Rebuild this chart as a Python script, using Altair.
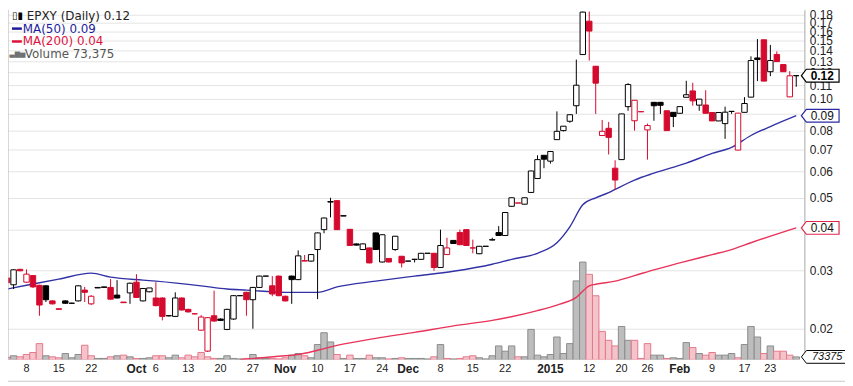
import altair as alt
import pandas as pd

# ---------------- data ----------------
first_prev_close = 0.0290
opens = [
    0.0285, 0.0272, 0.0303, 0.0277, 0.0290, 0.0271, 0.0270, 0.0243, 0.0230, 0.0243,
    0.0239, 0.0243, 0.0262, 0.0238, 0.0266, 0.0267, 0.0267, 0.0253, 0.0241, 0.0257,
    0.0277, 0.0243, 0.0259, 0.0248, 0.0248, 0.0219, 0.0218, 0.0248, 0.0229, 0.0222,
    0.0198, 0.0171, 0.0219, 0.0214, 0.0199, 0.0214, 0.0252, 0.0258, 0.0245, 0.0267,
    0.0289, 0.0270, 0.0289, 0.0251, 0.0289, 0.0282, 0.0322, 0.0321, 0.0348, 0.0400,
    0.0485, 0.0490, 0.0441, 0.0401, 0.0362, 0.0348, 0.0352, 0.0391, 0.0319, 0.0327,
    0.0348, 0.0332, 0.0321, 0.0325, 0.0325, 0.0339, 0.0339, 0.0307, 0.0336, 0.0371,
    0.0392, 0.0400, 0.0352, 0.0338, 0.0356, 0.0372, 0.0392, 0.0384, 0.0471, 0.0482,
    0.0478, 0.0519, 0.0572, 0.0673, 0.0646, 0.0751, 0.0800, 0.0854, 0.0952, 0.1362,
    0.1720, 0.1255, 0.0773, 0.0813, 0.0615, 0.0653, 0.0946, 0.0857, 0.0913, 0.0804,
    0.0975, 0.0975, 0.0919, 0.0909, 0.0903, 0.1010, 0.1056, 0.0956, 0.0957, 0.0908,
    0.0856, 0.0840, 0.0915, 0.0698, 0.0909, 0.1011, 0.1330, 0.1510, 0.1208, 0.1363,
    0.1270, 0.1013, 0.1175,
]
highs = [
    0.0290, 0.0303, 0.0304, 0.0303, 0.0291, 0.0272, 0.0271, 0.0244, 0.0230, 0.0244,
    0.0240, 0.0271, 0.0268, 0.0253, 0.0267, 0.0268, 0.0283, 0.0281, 0.0241, 0.0276,
    0.0293, 0.0266, 0.0266, 0.0277, 0.0249, 0.0219, 0.0258, 0.0249, 0.0230, 0.0222,
    0.0220, 0.0217, 0.0261, 0.0215, 0.0230, 0.0253, 0.0252, 0.0259, 0.0268, 0.0290,
    0.0289, 0.0289, 0.0290, 0.0252, 0.0290, 0.0346, 0.0335, 0.0337, 0.0392, 0.0435,
    0.0500, 0.0491, 0.0441, 0.0402, 0.0363, 0.0363, 0.0353, 0.0392, 0.0387, 0.0328,
    0.0383, 0.0333, 0.0321, 0.0325, 0.0340, 0.0339, 0.0340, 0.0400, 0.0378, 0.0372,
    0.0400, 0.0401, 0.0373, 0.0357, 0.0356, 0.0378, 0.0410, 0.0452, 0.0501, 0.0482,
    0.0501, 0.0604, 0.0673, 0.0674, 0.0692, 0.0915, 0.0826, 0.0895, 0.1315, 0.1840,
    0.1840, 0.1256, 0.0862, 0.0850, 0.0650, 0.0900, 0.1115, 0.0990, 0.0913, 0.0840,
    0.0976, 0.0976, 0.0920, 0.0910, 0.0947, 0.1134, 0.1118, 0.0998, 0.1061, 0.0909,
    0.0909, 0.0946, 0.0916, 0.0905, 0.1011, 0.1345, 0.1518, 0.1511, 0.1457, 0.1393,
    0.1271, 0.1213, 0.1176,
]
lows = [
    0.0272, 0.0264, 0.0299, 0.0276, 0.0266, 0.0219, 0.0241, 0.0237, 0.0229, 0.0238,
    0.0238, 0.0242, 0.0241, 0.0236, 0.0266, 0.0267, 0.0245, 0.0247, 0.0240, 0.0238,
    0.0248, 0.0242, 0.0258, 0.0234, 0.0212, 0.0218, 0.0217, 0.0227, 0.0224, 0.0221,
    0.0197, 0.0170, 0.0210, 0.0211, 0.0198, 0.0213, 0.0252, 0.0219, 0.0200, 0.0266,
    0.0289, 0.0251, 0.0251, 0.0242, 0.0238, 0.0281, 0.0321, 0.0320, 0.0246, 0.0390,
    0.0436, 0.0399, 0.0440, 0.0357, 0.0358, 0.0347, 0.0316, 0.0347, 0.0318, 0.0318,
    0.0345, 0.0307, 0.0321, 0.0318, 0.0324, 0.0339, 0.0300, 0.0306, 0.0335, 0.0362,
    0.0359, 0.0357, 0.0339, 0.0337, 0.0356, 0.0371, 0.0383, 0.0383, 0.0470, 0.0482,
    0.0477, 0.0518, 0.0571, 0.0615, 0.0635, 0.0750, 0.0795, 0.0845, 0.0899, 0.1360,
    0.1306, 0.0899, 0.0772, 0.0677, 0.0528, 0.0652, 0.0919, 0.0800, 0.0913, 0.0653,
    0.0857, 0.0899, 0.0799, 0.0820, 0.0902, 0.1009, 0.0952, 0.0919, 0.0902, 0.0855,
    0.0855, 0.0755, 0.0900, 0.0697, 0.0908, 0.1010, 0.1131, 0.1130, 0.1171, 0.1295,
    0.1207, 0.1012, 0.1087,
]
closes = [
    0.0276, 0.0302, 0.0300, 0.0293, 0.0268, 0.0236, 0.0245, 0.0238, 0.0229, 0.0239,
    0.0239, 0.0270, 0.0258, 0.0251, 0.0267, 0.0268, 0.0246, 0.0248, 0.0240, 0.0275,
    0.0249, 0.0265, 0.0266, 0.0235, 0.0218, 0.0219, 0.0248, 0.0228, 0.0225, 0.0222,
    0.0217, 0.0216, 0.0211, 0.0212, 0.0229, 0.0252, 0.0252, 0.0245, 0.0267, 0.0289,
    0.0289, 0.0255, 0.0252, 0.0243, 0.0282, 0.0333, 0.0321, 0.0336, 0.0391, 0.0434,
    0.0487, 0.0400, 0.0440, 0.0358, 0.0359, 0.0362, 0.0317, 0.0348, 0.0386, 0.0319,
    0.0382, 0.0317, 0.0321, 0.0325, 0.0339, 0.0339, 0.0307, 0.0358, 0.0352, 0.0363,
    0.0360, 0.0358, 0.0352, 0.0356, 0.0356, 0.0373, 0.0384, 0.0451, 0.0500, 0.0482,
    0.0500, 0.0603, 0.0653, 0.0655, 0.0691, 0.0796, 0.0825, 0.0894, 0.1099, 0.1833,
    0.1605, 0.1115, 0.0796, 0.0763, 0.0566, 0.0899, 0.1104, 0.0989, 0.0913, 0.0829,
    0.0952, 0.0955, 0.0800, 0.0883, 0.0946, 0.1028, 0.0985, 0.0997, 0.0903, 0.0856,
    0.0908, 0.0910, 0.0915, 0.0904, 0.0967, 0.1306, 0.1315, 0.1131, 0.1306, 0.1296,
    0.1208, 0.1174, 0.1175,
]
volumes = [
    60000, 106000, 76000, 143000, 200000, 457000, 106000, 76000, 48000, 171000,
    48000, 143000, 410000, 106000, 29000, 29000, 76000, 106000, 124000, 76000,
    29000, 29000, 48000, 106000, 106000, 48000, 124000, 48000, 124000, 76000,
    200000, 76000, 29000, 29000, 106000, 29000, 15000, 29000, 143000, 48000,
    29000, 29000, 15000, 48000, 124000, 171000, 106000, 48000, 430000, 771000,
    505000, 143000, 29000, 124000, 29000, 29000, 124000, 48000, 48000, 15000,
    29000, 48000, 29000, 29000, 29000, 15000, 76000, 430000, 29000, 15000,
    29000, 76000, 106000, 48000, 15000, 106000, 390000, 238000, 390000, 76000,
    76000, 866000, 124000, 76000, 143000, 648000, 171000, 457000, 2267000, 2810000,
    2457000, 1838000, 810000, 552000, 390000, 952000, 552000, 552000, 29000, 457000,
    124000, 124000, 29000, 48000, 29000, 486000, 343000, 171000, 124000, 200000,
    124000, 124000, 171000, 48000, 430000, 952000, 648000, 171000, 390000, 238000,
    238000, 124000, 73375,
]

ma50_idx = [0, 3, 8, 13, 16, 21, 23, 30, 34, 37, 43, 48, 51, 57, 63, 69, 75, 78, 82,
            85, 87, 89, 91, 93, 94, 97, 100, 105, 109, 112, 115, 118, 122]
ma50_val = [0.0264, 0.0271, 0.0283, 0.0295, 0.0287, 0.0281, 0.0279, 0.0270, 0.0264,
            0.0262, 0.0258, 0.0258, 0.0268, 0.0279, 0.0289, 0.0299, 0.0314, 0.0325,
            0.0339, 0.0365, 0.0408, 0.0476, 0.0500, 0.0518, 0.0530, 0.0566, 0.0594,
            0.0637, 0.0682, 0.0711, 0.0773, 0.0823, 0.0888]
ma200_idx = [36, 42, 45, 48, 51, 57, 63, 69, 75, 82, 85, 88, 90, 91, 94, 97, 100,
             104, 109, 112, 115, 122]
ma200_val = [0.0161, 0.0165, 0.0167, 0.0172, 0.0178, 0.0187, 0.0195, 0.0204, 0.0212,
             0.0227, 0.0236, 0.0249, 0.0270, 0.0273, 0.0279, 0.0290, 0.0302, 0.0317,
             0.0336, 0.0348, 0.0365, 0.0405]

price_ticks = [0.02, 0.03, 0.04, 0.05, 0.06, 0.07, 0.08, 0.09, 0.10, 0.11, 0.12,
               0.13, 0.14, 0.15, 0.16, 0.17, 0.18]
day_label_idx = [3, 8, 13, 23, 28, 33, 38, 48, 53, 58, 67, 72, 77, 90, 95, 99,
                 109, 114, 118]
day_label_txt = ["8", "15", "22", "6", "13", "20", "27", "10", "17", "24", "8",
                 "15", "22", "12", "20", "26", "9", "17", "23"]
month_idx = [20, 43, 62, 84, 104]
month_txt = ["Oct", "Nov", "Dec", "2015", "Feb"]
extra_grid_idx = [18, 81]

# ---------------- table ----------------
UP, DOWN = "#000000", "#d40a2e"
prev_close = [first_prev_close] + closes[:-1]
rows = []
for k in range(len(closes)):
    up = closes[k] >= prev_close[k]
    col = UP if up else DOWN
    rows.append({
        "i": k, "o": opens[k], "h": highs[k], "l": lows[k], "c": closes[k],
        "v": volumes[k], "col": col,
        "fill": "#ffffff" if closes[k] >= opens[k] else col,
        "vfill": "#bdbdbd" if up else "#f5c4cb",
        "vstroke": "#8c8c8c" if up else "#e3798c",
    })
df = pd.DataFrame(rows)

W, H = 804, 353
xscale = alt.Scale(domain=[0.14, 123.26], nice=False, zero=False)
pscale = alt.Scale(type="log", domain=[0.01613, 0.1863], nice=False)
vscale = alt.Scale(domain=[0, 10.09e6], nice=False, zero=True)

grid_idx = sorted(set(day_label_idx + month_idx + extra_grid_idx))
mon = ",".join(str(v) for v in month_idx)
is_month = f"indexof([{mon}], datum.value) >= 0"

x_axis = alt.Axis(
    values=grid_idx, labels=False, ticks=False, domain=False,
    grid=True,
    gridColor={"condition": {"test": is_month, "value": "#b9b9b9"}, "value": "#e2e2e2"},
    gridWidth=1,
)
y_axis = alt.Axis(
    orient="right", values=price_ticks, format=".2f",
    labelFont="Liberation Sans", labelFontSize=12, labelColor="#222222",
    labelOverlap=False, labelFlush=False, labelBound=False, labelPadding=5,
    ticks=False, domain=True, domainColor="#a8a8a8",
    grid=True, gridColor="#e4e4e4", gridWidth=1,
)

base = alt.Chart(df)

axes_layer = base.mark_point(opacity=0).encode(
    x=alt.X("i:Q", scale=xscale, axis=x_axis, title=None),
    y=alt.Y("c:Q", scale=pscale, axis=y_axis, title=None),
)

day_labels = alt.Chart(pd.DataFrame({"i": day_label_idx, "t": day_label_txt})).mark_text(
    font="Liberation Sans", fontSize=11, color="#222222", baseline="middle"
).encode(x=alt.X("i:Q", scale=xscale, axis=None), y=alt.value(H + 10), text="t:N")
month_labels = alt.Chart(pd.DataFrame({"i": month_idx, "t": month_txt})).mark_text(
    font="Liberation Sans", fontSize=12, fontWeight="bold", color="#222222",
    baseline="middle"
).encode(x=alt.X("i:Q", scale=xscale, axis=None), y=alt.value(H + 10), text="t:N")

vol_layer = base.transform_calculate(
    vl="datum.i - 0.5", vr="datum.i + 0.5"
).mark_rect(strokeWidth=1, clip=True).encode(
    x=alt.X("vl:Q", scale=xscale, axis=None),
    x2="vr:Q",
    y=alt.Y("v:Q", scale=vscale, axis=None),
    y2=alt.datum(0),
    fill=alt.Fill("vfill:N", scale=None),
    stroke=alt.Stroke("vstroke:N", scale=None),
)

ma200_layer = alt.Chart(pd.DataFrame({"i": ma200_idx, "m": ma200_val})).mark_line(
    color="#e8345a", strokeWidth=1.4, clip=True, interpolate="monotone"
).encode(
    x=alt.X("i:Q", scale=xscale, axis=None),
    y=alt.Y("m:Q", scale=pscale, axis=None),
)
ma50_layer = alt.Chart(pd.DataFrame({"i": ma50_idx, "m": ma50_val})).mark_line(
    color="#3232a6", strokeWidth=1.4, clip=True, interpolate="monotone"
).encode(
    x=alt.X("i:Q", scale=xscale, axis=None),
    y=alt.Y("m:Q", scale=pscale, axis=None),
)

wick_layer = base.mark_rule(strokeWidth=1, clip=True).encode(
    x=alt.X("i:Q", scale=xscale, axis=None),
    y=alt.Y("l:Q", scale=pscale, axis=None),
    y2="h:Q",
    color=alt.Color("col:N", scale=None),
)
body_layer = base.transform_calculate(
    bl="datum.i - 0.42", br="datum.i + 0.42"
).mark_rect(strokeWidth=1, clip=True).encode(
    x=alt.X("bl:Q", scale=xscale, axis=None),
    x2="br:Q",
    y=alt.Y("o:Q", scale=pscale, axis=None),
    y2="c:Q",
    fill=alt.Fill("fill:N", scale=None),
    stroke=alt.Stroke("col:N", scale=None),
)

# ---------------- value callouts on the right axis ----------------
tag_path = "M -1 0 L -0.74 -0.34 L 1 -0.34 L 1 0.34 L -0.74 0.34 Z"
tag_path_wide = "M -1 0 L -0.78 -0.28 L 1 -0.28 L 1 0.28 L -0.78 0.28 Z"
price_tags = pd.DataFrame({
    "v": [closes[-1], ma50_val[-1], ma200_val[-1]],
    "t": ["0.12", "0.09", "0.04"],
    "sc": ["#000000", "#2a2aa5", "#e0284e"],
})
tag_shapes = alt.Chart(price_tags).mark_point(
    shape=tag_path, size=1444, filled=True, fill="#ffffff", opacity=1, strokeWidth=1.2
).encode(
    x=alt.value(820),
    y=alt.Y("v:Q", scale=pscale, axis=None),
    stroke=alt.Stroke("sc:N", scale=None),
)
tag_bold = alt.Chart(price_tags.iloc[:1]).mark_text(
    font="Liberation Sans", fontSize=12, fontWeight="bold", color="#000000"
).encode(x=alt.value(822), y=alt.Y("v:Q", scale=pscale, axis=None), text="t:N")
tag_text = alt.Chart(price_tags.iloc[1:]).mark_text(
    font="Liberation Sans", fontSize=12, color="#111111"
).encode(x=alt.value(822), y=alt.Y("v:Q", scale=pscale, axis=None), text="t:N")

vol_tag = pd.DataFrame({"v": [volumes[-1]], "t": [str(volumes[-1])]})
vol_tag_shape = alt.Chart(vol_tag).mark_point(
    shape=tag_path_wide, size=2116, filled=True, fill="#ffffff", opacity=1,
    strokeWidth=1, stroke="#000000"
).encode(x=alt.value(824), y=alt.Y("v:Q", scale=vscale, axis=None))
vol_tag_text = alt.Chart(vol_tag).mark_text(
    font="Liberation Sans", fontSize=11, fontStyle="italic", color="#111111"
).encode(x=alt.value(827), y=alt.Y("v:Q", scale=vscale, axis=None), text="t:N")

# ---------------- legend (top-left, inside the plot) ----------------
def label(txt, x, y, color, size=12, font="DejaVu Sans", align="left"):
    return alt.Chart(pd.DataFrame({"t": [txt]})).mark_text(
        font=font, fontSize=size, color=color, align=align, baseline="middle"
    ).encode(x=alt.value(x), y=alt.value(y), text="t:N")

def dash(y, color):
    return alt.Chart(pd.DataFrame({"a": [0]})).mark_rule(
        color=color, strokeWidth=2.5
    ).encode(x=alt.value(4), x2=alt.value(14), y=alt.value(y))

legend = [
    label("▯▮", 9.5, 6, "#000000", size=10, align="center"),
    label("EPXY (Daily) 0.12", 19, 6, "#222222"),
    dash(19, "#1c1c9c"),
    label("MA(50) 0.09", 15, 19, "#1c1c9c"),
    dash(32, "#e0103c"),
    label("MA(200) 0.04", 15, 32, "#e0103c"),
    label("▃▆▅", 9.5, 45, "#707070", size=7, align="center"),
    label("Volume 73,375", 17, 45, "#555555"),
]

frame_left = alt.Chart(pd.DataFrame({"a": [0]})).mark_rule(color="#b0b0b0").encode(
    x=alt.value(0), y=alt.value(0), y2=alt.value(H))
frame_bottom = alt.Chart(pd.DataFrame({"a": [0]})).mark_rule(color="#c8c8c8").encode(
    x=alt.value(0), x2=alt.value(845), y=alt.value(375))

chart = alt.layer(
    axes_layer, vol_layer, ma200_layer, ma50_layer, wick_layer, body_layer,
    frame_left, frame_bottom, day_labels, month_labels,
    tag_shapes, tag_bold, tag_text, vol_tag_shape, vol_tag_text,
    *legend,
).resolve_scale(
    y="independent"
).properties(
    width=W, height=H,
    padding={"left": 0, "top": 0, "right": 41, "bottom": 25},
    autosize=alt.AutoSizeParams(type="none"),
).configure_view(stroke=None)

chart.save("out.html", embed_options={"renderer": "svg", "actions": False})
